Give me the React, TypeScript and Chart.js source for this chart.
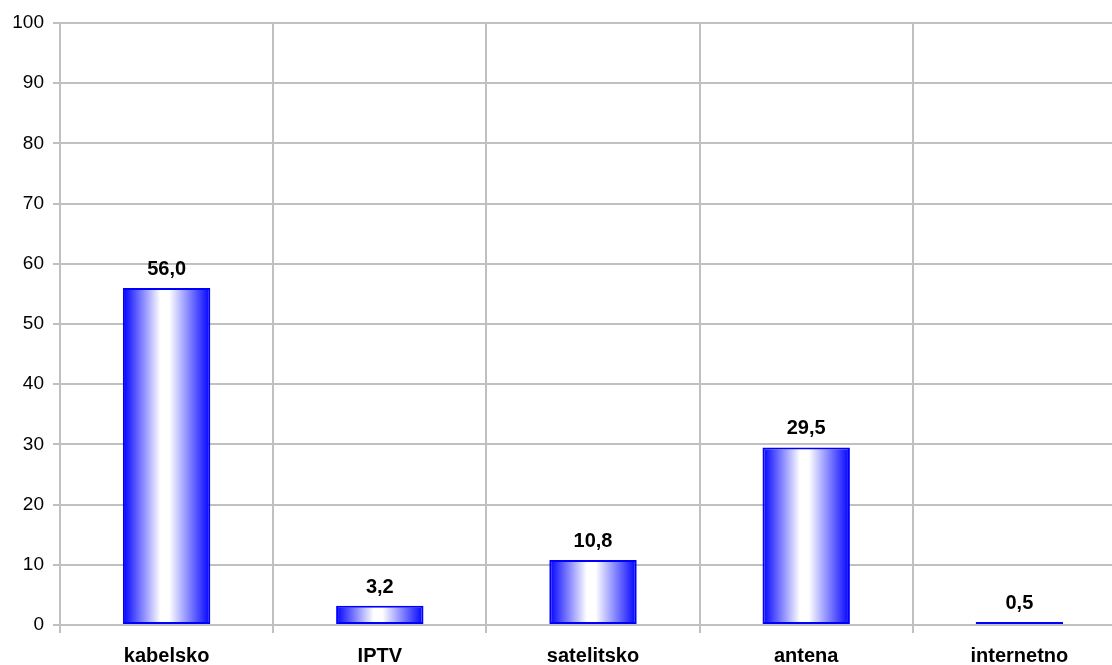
import React, { useEffect, useRef } from "react";
import { Chart, registerables } from "chart.js";

Chart.register(...registerables);

const categories = ["kabelsko", "IPTV", "satelitsko", "antena", "internetno"];
const values = [56.0, 3.2, 10.8, 29.5, 0.5];
const yMin = 0;
const yMax = 100;
const yStep = 10;

const FONT = "'Liberation Sans', Arial, sans-serif";
const BAR_PCT = 0.41;

const valueLabels = {
  id: "valueLabels",
  afterDatasetsDraw(chart: any) {
    const ctx = chart.ctx;
    const meta = chart.getDatasetMeta(0);
    ctx.save();
    ctx.font = `bold 20px ${FONT}`;
    ctx.fillStyle = "#000";
    ctx.textAlign = "center";
    ctx.textBaseline = "alphabetic";
    meta.data.forEach((el: any, i: number) => {
      const txt = values[i].toFixed(1).replace(".", ",");
      ctx.fillText(txt, el.x, el.y - 13);
    });
    ctx.restore();
  },
};

export default function App() {
  const ref = useRef<HTMLCanvasElement>(null);
  useEffect(() => {
    document.body.style.margin = "0";
    const canvas = ref.current!;
    const chart = new Chart(canvas, {
      type: "bar",
      data: {
        labels: categories,
        datasets: [
          {
            data: values,
            borderColor: "#0000ff",
            borderWidth: 2,
            borderSkipped: false,
            backgroundColor: (c: any) => {
              const ch = c.chart;
              const area = ch.chartArea;
              const xs = ch.scales?.x;
              if (!area || !xs || c.dataIndex === undefined) return "#8080ff";
              const cx = xs.getPixelForValue(c.dataIndex);
              const w = (area.width / categories.length) * BAR_PCT;
              const g = ch.ctx.createLinearGradient(cx - w / 2, 0, cx + w / 2, 0);
              g.addColorStop(0, "#0000ff");
              g.addColorStop(0.43, "#ffffff");
              g.addColorStop(0.53, "#ffffff");
              g.addColorStop(1, "#0000ff");
              return g;
            },
            barPercentage: BAR_PCT,
            categoryPercentage: 1,
          },
        ],
      },
      options: {
        animation: false,
        responsive: false,
        maintainAspectRatio: false,
        layout: { padding: { top: 23, right: 0, left: 0, bottom: 0 } },
        plugins: { legend: { display: false }, tooltip: { enabled: false } },
        scales: {
          x: {
            offset: true,
            grid: {
              offset: true,
              color: "#c0c0c0",
              lineWidth: 2,
              tickLength: 8,
              drawTicks: true,
            },
            border: { color: "#c0c0c0", width: 2 },
            ticks: {
              color: "#000",
              font: { family: FONT, size: 20, weight: "bold" },
              padding: 11,
              maxRotation: 0,
            },
            afterFit: (s: any) => {
              s.height = 40;
            },
          },
          y: {
            min: yMin,
            max: yMax,
            ticks: {
              stepSize: yStep,
              color: "#000",
              font: { family: FONT, size: 19 },
              padding: 9,
              callback: (v: any) => String(v),
            },
            grid: { color: "#c0c0c0", lineWidth: 2, tickLength: 7 },
            border: { color: "#c0c0c0", width: 2 },
            afterFit: (s: any) => {
              s.width = 60;
            },
          },
        },
      },
      plugins: [valueLabels],
    });
    return () => chart.destroy();
  }, []);
  return (
    <div style={{ width: 1112, height: 665, overflow: "hidden" }}>
      <canvas ref={ref} width={1126} height={665} style={{ display: "block" }} />
    </div>
  );
}
